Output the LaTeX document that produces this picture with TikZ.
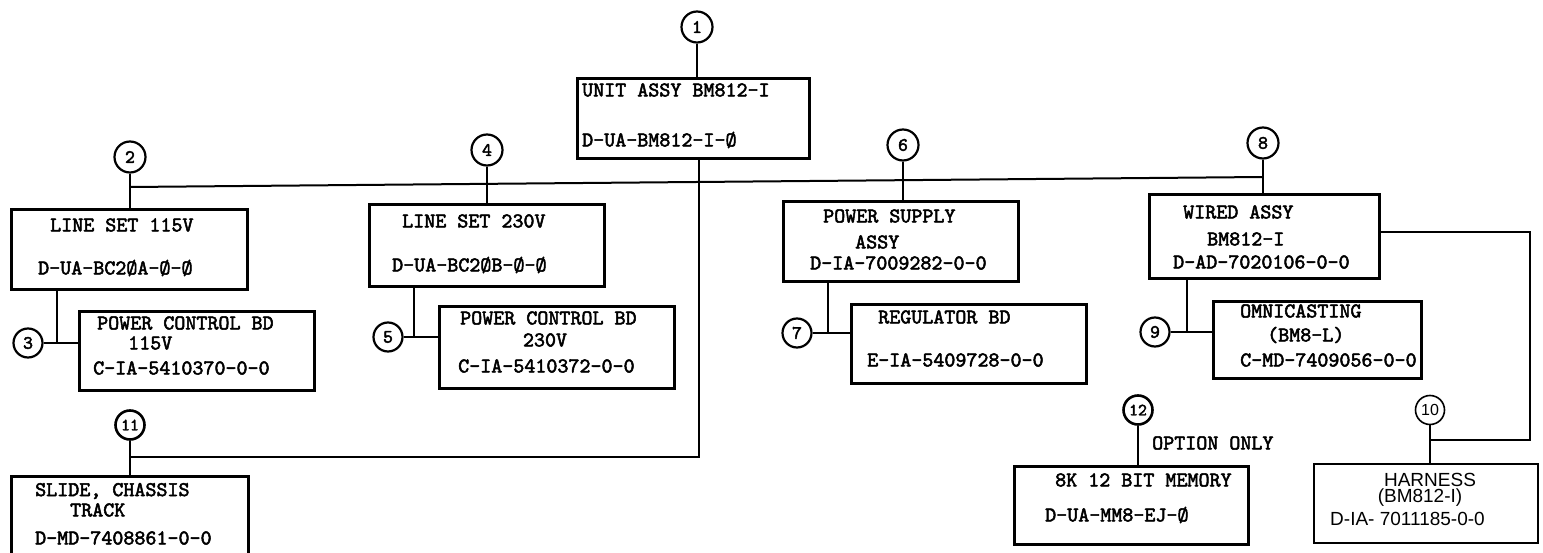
\documentclass[tikz,border=0pt]{standalone}
\usepackage{fontspec}
\newfontfamily\hw{Liberation Sans}
\newfontfamily\tw[FakeBold=2.4]{lmmono10-regular.otf}
\begin{document}
\begin{tikzpicture}[x=1pt,y=-1pt,
  box/.style={draw, line width=2.6pt, rectangle, inner sep=0pt, anchor=north west},
  num/.style={draw, circle, line width=2.2pt, minimum size=31pt, inner sep=0pt, font=\tw\fontsize{19}{19}\selectfont},
  txt/.style={anchor=west, inner sep=0pt, font=\tw\fontsize{21}{22}\selectfont},
  ctxt/.style={anchor=center, inner sep=0pt, font=\tw\fontsize{21}{22}\selectfont},
  htxt/.style={anchor=west, inner sep=0pt, font=\hw\fontsize{19}{20}\selectfont},
  link/.style={line width=2pt}]
\useasboundingbox[fill=white] (0,0) rectangle (1543,553);

% ---- boxes
\node[box, minimum width=232pt, minimum height=80pt] (b1) at (576,77) {};
\node[box, minimum width=236pt, minimum height=80pt] (b2) at (10,208) {};
\node[box, minimum width=235pt, minimum height=79pt] (b3) at (78,310) {};
\node[box, minimum width=235pt, minimum height=82pt] (b4) at (368,203) {};
\node[box, minimum width=235pt, minimum height=82pt] (b5) at (438,305) {};
\node[box, minimum width=235pt, minimum height=80pt] (b6) at (782,200) {};
\node[box, minimum width=235pt, minimum height=79pt] (b7) at (850,303) {};
\node[box, minimum width=230pt, minimum height=84pt] (b8) at (1148,193) {};
\node[box, minimum width=208pt, minimum height=77pt] (b9) at (1212,300) {};
\node[box, minimum width=224pt, minimum height=79pt, line width=1.6pt] (b10) at (1313,463) {};
\node[box, minimum width=237pt, minimum height=78pt] (b11) at (10,475) {};
\node[box, minimum width=234pt, minimum height=78pt] (b12) at (1013,465) {};

% ---- numbered circles
\node[num] (c1) at (697,27) {1};
\node[num] (c2) at (130,157) {2};
\node[num, minimum size=29pt] (c3) at (28,343) {3};
\node[num] (c4) at (487,150) {4};
\node[num, minimum size=29pt] (c5) at (388,337) {5};
\node[num] (c6) at (903,145) {6};
\node[num, minimum size=29pt] (c7) at (797,333) {7};
\node[num] (c8) at (1263,143) {8};
\node[num, minimum size=29pt] (c9) at (1155,332) {9};
\node[num, minimum size=29pt, line width=1.6pt, font=\hw\fontsize{16}{16}\selectfont] (c10) at (1430,410) {10};
\node[num, minimum size=29pt, line width=2.6pt, font=\tw\fontsize{17}{17}\selectfont] (c11) at (130,425) {11};
\node[num, minimum size=29pt, line width=2.6pt, font=\tw\fontsize{17}{17}\selectfont] (c12) at (1138,410) {12};

% ---- texts
\node[txt] (t1a) at (582,90) {UNIT ASSY BM812-I};
\node[txt] (t1b) at (582,140) {D-UA-BM812-I-Ø};
\node[txt] (t2a) at (50,225) {LINE SET 115V};
\node[txt] (t2b) at (38,268) {D-UA-BC2ØA-Ø-Ø};
\node[txt] (t3a) at (97,323) {POWER CONTROL BD};
\node[txt] (t3b) at (128,343) {115V};
\node[txt] (t3c) at (93,368) {C-IA-5410370-0-0};
\node[txt] (t4a) at (402,221) {LINE SET 230V};
\node[txt] (t4b) at (392,265) {D-UA-BC2ØB-Ø-Ø};
\node[txt] (t5a) at (460,318) {POWER CONTROL BD};
\node[ctxt] (t5b) at (545,340) {230V};
\node[txt] (t5c) at (458,366) {C-IA-5410372-0-0};
\node[txt] (t6a) at (823,216) {POWER SUPPLY};
\node[txt] (t6b) at (855,242) {ASSY};
\node[txt] (t6c) at (810,263) {D-IA-7009282-0-0};
\node[txt] (t7a) at (878,317) {REGULATOR BD};
\node[txt] (t7b) at (867,360) {E-IA-5409728-0-0};
\node[txt] (t8a) at (1183,212) {WIRED ASSY};
\node[txt] (t8b) at (1207,239) {BM812-I};
\node[txt] (t8c) at (1173,262) {D-AD-7020106-0-0};
\node[txt] (t9a) at (1240,311) {OMNICASTING};
\node[txt] (t9b) at (1267,335) {(BM8-L)};
\node[txt] (t9c) at (1240,360) {C-MD-7409056-0-0};
\node[htxt, anchor=center] (t10a) at (1430,480) {HARNESS};
\node[htxt, anchor=center] (t10b) at (1420,498) {(BM812-I)};
\node[htxt] (t10c) at (1330,519) {D-IA- 7011185-0-0};
\node[txt] (t11a) at (35,491) {SLIDE, CHASSIS};
\node[txt] (t11b) at (70,510) {TRACK};
\node[txt] (t11c) at (35,538) {D-MD-7408861-0-0};
\node[txt] (t12a) at (1055,480) {8K 12 BIT MEMORY};
\node[txt] (t12b) at (1045,515) {D-UA-MM8-EJ-Ø};
\node[txt] (opt) at (1152,443) {OPTION ONLY};

% ---- junction points
\coordinate (j2) at (130,187);
\coordinate (j4) at (487,183);
\coordinate (j6) at (903,178);
\coordinate (j8) at (1263,177);
\coordinate (j3) at (57,342);
\coordinate (j5) at (414,337);
\coordinate (j7) at (828,333);
\coordinate (j9) at (1187,332);
\coordinate (j11) at (130,457);
\coordinate (k1) at (699,457);
\coordinate (r1) at (1530,232);
\coordinate (r2) at (1530,440);
\coordinate (j10) at (1430,440);

% ---- connectors
\draw[link] (c1.south) -- (c1.south |- b1.north);
\draw[link] (j2) -- (j8);
\draw[link] (c2.south) -- (c2.south |- b2.north);
\draw[link] (c4.south) -- (c4.south |- b4.north);
\draw[link] (c6.south) -- (c6.south |- b6.north);
\draw[link] (c8.south) -- (c8.south |- b8.north);
\draw[link] (j3 |- b2.south) -- (j3);
\draw[link] (c3.east) -- (b3.west |- c3.east);
\draw[link] (j5 |- b4.south) -- (j5);
\draw[link] (c5.east) -- (b5.west |- c5.east);
\draw[link] (j7 |- b6.south) -- (j7);
\draw[link] (c7.east) -- (b7.west |- c7.east);
\draw[link] (j9 |- b8.south) -- (j9);
\draw[link] (c9.east) -- (b9.west |- c9.east);
\draw[link] (k1 |- b1.south) -- (k1) -- (j11);
\draw[link] (c11.south) -- (c11.south |- b11.north);
\draw[link] (b8.east |- r1) -- (r1) -- (r2) -- (j10);
\draw[link, line width=1.6pt] (c10.south) -- (c10.south |- b10.north);
\draw[link, line width=2.6pt] (c12.south) -- (c12.south |- b12.north);
\end{tikzpicture}
\end{document}
